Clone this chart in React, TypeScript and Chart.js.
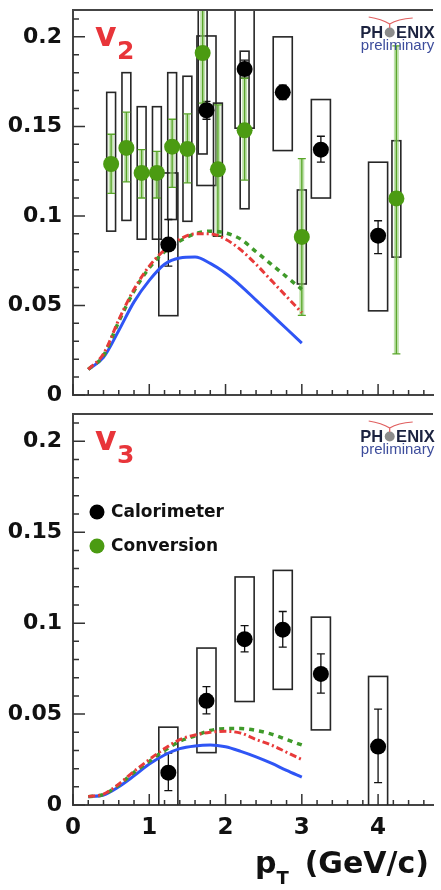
import { useEffect, useRef } from "react";
import { Chart, registerables } from "chart.js";

Chart.register(...registerables);

const FONT = '"DejaVu Sans", sans-serif';
const LOGO_FONT = '"Liberation Sans", Arial, sans-serif';

// Axes (pT in GeV/c, flow coefficient)
const X_MIN = 0;
const X_MAX = 4.72;
const X_TICKS = [0, 1, 2, 3, 4];
const X_TICK_LABELS = ["0", "1", "2", "3", "4"];
const Y_MIN = 0;
const Y_MAX = 0.215;
const Y_TICKS = [0, 0.05, 0.1, 0.15, 0.2];
const Y_TICK_LABELS = ["0", "0.05", "0.1", "0.15", "0.2"];

// v2, calorimeter method
const V2_CAL_PT = [1.25, 1.75, 2.25, 2.75, 3.25, 4.0];
const V2_CAL = [0.084, 0.159, 0.182, 0.169, 0.137, 0.089];
const V2_CAL_STAT_HI = [0.098, 0.164, 0.187, 0.173, 0.1445, 0.0973];
const V2_CAL_STAT_LO = [0.072, 0.154, 0.177, 0.165, 0.13, 0.079];
const V2_CAL_SYS_HI = [0.124, 0.2005, 0.23, 0.2, 0.165, 0.13];
const V2_CAL_SYS_LO = [0.0443, 0.117, 0.149, 0.1365, 0.11, 0.047];

// v2, conversion method
const V2_CONV_PT = [0.5, 0.7, 0.9, 1.1, 1.3, 1.5, 1.7, 1.9, 2.25, 3.0, 4.24];
const V2_CONV = [0.129, 0.138, 0.124, 0.124, 0.1387, 0.1374, 0.191, 0.126, 0.1478, 0.0883, 0.1098];
const V2_CONV_STAT_HI = [0.1456, 0.158, 0.137, 0.136, 0.154, 0.157, 0.24, 0.162, 0.177, 0.132, 0.195];
const V2_CONV_STAT_LO = [0.1126, 0.119, 0.11, 0.11, 0.116, 0.1185, 0.163, 0.089, 0.12, 0.0445, 0.023];
const V2_CONV_SYS_HI = [0.169, 0.18, 0.161, 0.161, 0.18, 0.178, 0.23, 0.163, 0.192, 0.1145, 0.142];
const V2_CONV_SYS_LO = [0.0915, 0.0975, 0.087, 0.087, 0.098, 0.097, 0.1346, 0.0887, 0.104, 0.062, 0.077];

// v3, calorimeter method
const V3_CAL_PT = [1.25, 1.75, 2.25, 2.75, 3.25, 4.0];
const V3_CAL = [0.0178, 0.0573, 0.0912, 0.0964, 0.0721, 0.0321];
const V3_CAL_STAT_HI = [0.0285, 0.0651, 0.0986, 0.1064, 0.0831, 0.0527];
const V3_CAL_STAT_LO = [0.0079, 0.0501, 0.0842, 0.0868, 0.0615, 0.0123];
const V3_CAL_SYS_HI = [0.0428, 0.0863, 0.1254, 0.129, 0.1033, 0.0707];
const V3_CAL_SYS_LO = [-0.01, 0.0288, 0.0569, 0.0636, 0.0413, -0.01];

// Model calculations
const MODEL_PT = [0.2, 0.4, 0.6, 0.8, 1.0, 1.2, 1.4, 1.6, 1.8, 2.0, 2.2, 2.4, 2.6, 2.8, 3.0];
const V2_MODEL_BLUE = [0.0143, 0.021, 0.036, 0.052, 0.064, 0.073, 0.0765, 0.077, 0.0735, 0.068, 0.061, 0.053, 0.045, 0.037, 0.029];
const V2_MODEL_GREEN = [0.0143, 0.022, 0.041, 0.058, 0.071, 0.08, 0.086, 0.09, 0.0915, 0.0905, 0.087, 0.08, 0.073, 0.066, 0.059];
const V2_MODEL_RED = [0.0143, 0.023, 0.042, 0.059, 0.072, 0.081, 0.087, 0.09, 0.09, 0.087, 0.081, 0.073, 0.064, 0.055, 0.046];
const V3_MODEL_BLUE = [0.0046, 0.0055, 0.01, 0.016, 0.0225, 0.0275, 0.031, 0.0325, 0.033, 0.032, 0.0295, 0.0265, 0.023, 0.019, 0.0153];
const V3_MODEL_GREEN = [0.0046, 0.0058, 0.011, 0.018, 0.024, 0.03, 0.035, 0.038, 0.041, 0.042, 0.042, 0.041, 0.039, 0.036, 0.033];
const V3_MODEL_RED = [0.0046, 0.006, 0.0115, 0.0185, 0.025, 0.031, 0.036, 0.0385, 0.04, 0.0405, 0.0395, 0.036, 0.033, 0.029, 0.025];

const LEGEND_LABELS = ["Calorimeter", "Conversion"];

const BLACK = "#000000";
const GREEN = "#4b9b12";
const RED = "#e8353a";
const BLUE = "#2f55f5";

type Series = {
  pt: number[];
  val: number[];
  statHi: number[];
  statLo: number[];
  sysHi: number[];
  sysLo: number[];
  color: string;
  boxHalf: number;
  green: boolean;
};

type Curve = { y: number[]; color: string; dash: number[]; width: number };

type PanelProps = {
  top: number;
  height: number;
  sub: string;
  series: Series[];
  curves: Curve[];
  legend: boolean;
  xAxis: boolean;
  padTop: number;
  padBottom: number;
  xHeight: number;
};

function decorPlugin(p: PanelProps) {
  return {
    id: "decor",
    beforeDatasetsDraw(chart: any) {
      const { ctx, chartArea: a } = chart;
      const x = chart.scales.x;
      const y = chart.scales.y;
      ctx.save();
      ctx.beginPath();
      ctx.rect(a.left, a.top, a.right - a.left, a.bottom - a.top);
      ctx.clip();
      // systematic boxes
      for (const s of p.series) {
        ctx.strokeStyle = "#262626";
        ctx.lineWidth = 1.6;
        s.pt.forEach((pt, i) => {
          const x0 = x.getPixelForValue(pt - s.boxHalf);
          const x1 = x.getPixelForValue(pt + s.boxHalf);
          const y0 = y.getPixelForValue(s.sysHi[i]);
          const y1 = y.getPixelForValue(s.sysLo[i]);
          ctx.strokeRect(x0, y0, x1 - x0, y1 - y0);
        });
      }
      // statistical bars
      for (const s of p.series) {
        s.pt.forEach((pt, i) => {
          const px = x.getPixelForValue(pt);
          const yh = y.getPixelForValue(s.statHi[i]);
          const yl = y.getPixelForValue(s.statLo[i]);
          if (s.green) {
            ctx.fillStyle = "rgba(150,205,120,0.6)";
            ctx.fillRect(px - 2.5, yh, 5, yl - yh);
          }
          ctx.strokeStyle = s.green ? "#5aa62a" : "#111";
          ctx.lineWidth = 1.3;
          ctx.beginPath();
          ctx.moveTo(px, yh);
          ctx.lineTo(px, yl);
          ctx.moveTo(px - 4, yh);
          ctx.lineTo(px + 4, yh);
          ctx.moveTo(px - 4, yl);
          ctx.lineTo(px + 4, yl);
          ctx.stroke();
        });
      }
      ctx.restore();
    },
    afterDraw(chart: any) {
      const { ctx, chartArea: a } = chart;
      const x = chart.scales.x;
      const y = chart.scales.y;
      ctx.save();
      // frame top edge
      ctx.strokeStyle = "#444";
      ctx.lineWidth = 2;
      ctx.beginPath();
      ctx.moveTo(a.left, a.top);
      ctx.lineTo(a.right, a.top);
      ctx.stroke();
      // inward tick marks
      ctx.lineWidth = 1.5;
      ctx.strokeStyle = "#333";
      ctx.beginPath();
      for (let i = 0; i <= 21; i++) {
        const py = y.getPixelForValue(i * 0.01);
        const len = i % 5 === 0 ? 12 : 6;
        ctx.moveTo(a.left, py);
        ctx.lineTo(a.left + len, py);
      }
      for (let i = 0; i <= 23; i++) {
        const px = x.getPixelForValue(i * 0.2);
        const len = i % 5 === 0 ? 11 : 5;
        ctx.moveTo(px, a.bottom);
        ctx.lineTo(px, a.bottom - len);
      }
      ctx.stroke();

      // panel label
      ctx.fillStyle = RED;
      ctx.textBaseline = "alphabetic";
      ctx.textAlign = "left";
      ctx.font = `bold 33px ${FONT}`;
      ctx.fillText("v", 95, a.top + 36);
      ctx.font = `bold 25px ${FONT}`;
      ctx.fillText(p.sub, 117, a.top + 49);

      // collaboration logo
      ctx.font = `bold 16.5px ${LOGO_FONT}`;
      const wPH = ctx.measureText("PH").width;
      const wO = ctx.measureText("O").width;
      const wEN = ctx.measureText("ENIX").width;
      const cx = 397.5;
      const lx = cx - (wPH + wO + wEN) / 2;
      ctx.fillStyle = "#1c2340";
      ctx.fillText("PH", lx, a.top + 28);
      const ox = lx + wPH + wO / 2;
      ctx.fillStyle = "#8c8c8c";
      ctx.beginPath();
      ctx.arc(ox, a.top + 22.5, 5, 0, Math.PI * 2);
      ctx.fill();
      ctx.fillStyle = "#1c2340";
      ctx.fillText("ENIX", lx + wPH + wO, a.top + 28);
      ctx.strokeStyle = "#e06060";
      ctx.lineWidth = 1.2;
      ctx.beginPath();
      ctx.moveTo(ox - 21, a.top + 7);
      ctx.quadraticCurveTo(ox - 8, a.top + 9, ox, a.top + 14);
      ctx.quadraticCurveTo(ox + 8, a.top + 9, ox + 23, a.top + 8);
      ctx.moveTo(ox, a.top + 14);
      ctx.lineTo(ox, a.top + 18);
      ctx.stroke();
      ctx.font = `15px ${LOGO_FONT}`;
      ctx.fillStyle = "#3d4d9c";
      ctx.textAlign = "center";
      ctx.fillText("preliminary", cx, a.top + 40);

      // legend
      if (p.legend) {
        const rows = [
          { c: BLACK, t: LEGEND_LABELS[0], yy: a.top + 98 },
          { c: GREEN, t: LEGEND_LABELS[1], yy: a.top + 132 },
        ];
        ctx.textAlign = "left";
        ctx.textBaseline = "middle";
        ctx.font = `bold 17px ${FONT}`;
        for (const r of rows) {
          ctx.fillStyle = r.c;
          ctx.beginPath();
          ctx.arc(97, r.yy, 7.5, 0, Math.PI * 2);
          ctx.fill();
          ctx.fillStyle = "#111";
          ctx.fillText(r.t, 111, r.yy + 1);
        }
      }

      // x-axis title with subscript
      if (p.xAxis) {
        const base = a.bottom + 68;
        ctx.fillStyle = "#111";
        ctx.textBaseline = "alphabetic";
        ctx.textAlign = "left";
        ctx.font = `bold 30px ${FONT}`;
        ctx.fillText("p", 255, base);
        const wp = ctx.measureText("p").width;
        ctx.font = `bold 18px ${FONT}`;
        ctx.fillText("T", 255 + wp, base + 11);
        ctx.font = `bold 30px ${FONT}`;
        ctx.textAlign = "right";
        ctx.fillText("(GeV/c)", 429, base);
      }
      ctx.restore();
    },
  };
}

// drop the automatic end-label padding so the layout padding alone places the plot frame
const noScalePadding = (s: any) => {
  s.paddingTop = 0;
  s.paddingBottom = 0;
  s.paddingLeft = 0;
  s.paddingRight = 0;
};

function Panel(p: PanelProps) {
  const ref = useRef<HTMLCanvasElement>(null);
  useEffect(() => {
    const pointSets = p.series.map((s) => ({
      type: "scatter" as const,
      data: s.pt.map((v, i) => ({ x: v, y: s.val[i] })),
      backgroundColor: s.color,
      borderColor: s.color,
      borderWidth: 0,
      pointRadius: 8,
      pointHoverRadius: 8,
    }));
    const curveSets = p.curves
      .slice()
      .reverse()
      .map((c) => ({
        type: "line" as const,
        data: MODEL_PT.map((v, i) => ({ x: v, y: c.y[i] })),
        borderColor: c.color,
        borderDash: c.dash,
        borderWidth: c.width,
        pointRadius: 0,
        fill: false,
        cubicInterpolationMode: "monotone" as const,
      }));
    const chart = new Chart(ref.current!, {
      type: "scatter",
      data: { datasets: [...pointSets, ...curveSets] as any },
      options: {
        animation: false,
        responsive: false,
        devicePixelRatio: 1,
        events: [],
        layout: { padding: { top: p.padTop, bottom: p.padBottom, left: 0, right: 0 } },
        plugins: { legend: { display: false }, tooltip: { enabled: false } },
        scales: {
          x: {
            type: "linear",
            min: X_MIN,
            max: X_MAX,
            grid: { display: false, drawTicks: false },
            border: { display: true, color: "#444", width: 2 },
            afterBuildTicks: (s: any) => {
              s.ticks = X_TICKS.map((v) => ({ value: v }));
            },
            afterFit: (s: any) => {
              s.height = p.xHeight;
              noScalePadding(s);
            },
            ticks: {
              display: p.xAxis,
              padding: 9,
              color: "#111",
              font: { family: FONT, size: 23, weight: "bold" },
              callback: (_v: any, i: number) => X_TICK_LABELS[i],
              maxRotation: 0,
            },
          },
          y: {
            type: "linear",
            min: Y_MIN,
            max: Y_MAX,
            grid: { display: false, drawTicks: false },
            border: { display: true, color: "#444", width: 2 },
            afterBuildTicks: (s: any) => {
              s.ticks = Y_TICKS.map((v) => ({ value: v }));
            },
            afterFit: (s: any) => {
              s.width = 73;
              noScalePadding(s);
            },
            ticks: {
              padding: 11,
              color: "#111",
              font: { family: FONT, size: 22, weight: "bold" },
              callback: (_v: any, i: number) => Y_TICK_LABELS[i],
            },
          },
        },
      },
      plugins: [decorPlugin(p)],
    });
    return () => chart.destroy();
  }, []);
  return (
    <canvas
      ref={ref}
      width={441}
      height={p.height}
      style={{ position: "absolute", left: 0, top: p.top, width: 441, height: p.height }}
    />
  );
}

const CAL_V2: Series = {
  pt: V2_CAL_PT, val: V2_CAL, statHi: V2_CAL_STAT_HI, statLo: V2_CAL_STAT_LO,
  sysHi: V2_CAL_SYS_HI, sysLo: V2_CAL_SYS_LO, color: BLACK, boxHalf: 0.125, green: false,
};
const CONV_V2: Series = {
  pt: V2_CONV_PT, val: V2_CONV, statHi: V2_CONV_STAT_HI, statLo: V2_CONV_STAT_LO,
  sysHi: V2_CONV_SYS_HI, sysLo: V2_CONV_SYS_LO, color: GREEN, boxHalf: 0.058, green: true,
};
const CAL_V3: Series = {
  pt: V3_CAL_PT, val: V3_CAL, statHi: V3_CAL_STAT_HI, statLo: V3_CAL_STAT_LO,
  sysHi: V3_CAL_SYS_HI, sysLo: V3_CAL_SYS_LO, color: BLACK, boxHalf: 0.125, green: false,
};

const curvesFor = (blue: number[], green: number[], red: number[]): Curve[] => [
  { y: blue, color: BLUE, dash: [], width: 3 },
  { y: green, color: "#3f9a2a", dash: [5, 5], width: 3.5 },
  { y: red, color: "#e83a3a", dash: [7, 3, 2, 3], width: 3 },
];

export default function App() {
  return (
    <div
      style={{
        position: "absolute",
        left: 0,
        top: 0,
        width: 441,
        height: 890,
        overflow: "hidden",
        background: "#fff",
      }}
    >
      <Panel
        top={0}
        height={403}
        sub="2"
        series={[CAL_V2, CONV_V2]}
        curves={curvesFor(V2_MODEL_BLUE, V2_MODEL_GREEN, V2_MODEL_RED)}
        legend={false}
        xAxis={false}
        padTop={10}
        padBottom={2}
        xHeight={0}
      />
      <Panel
        top={403}
        height={487}
        sub="3"
        series={[CAL_V3]}
        curves={curvesFor(V3_MODEL_BLUE, V3_MODEL_GREEN, V3_MODEL_RED)}
        legend={true}
        xAxis={true}
        padTop={11}
        padBottom={0}
        xHeight={85}
      />
    </div>
  );
}
